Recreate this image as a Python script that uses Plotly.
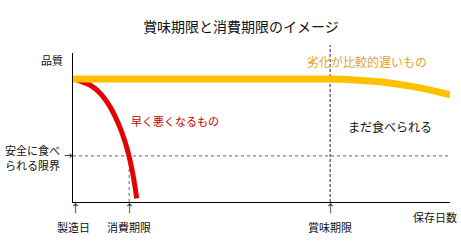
import plotly.graph_objects as go

# ---- data (x: storage days 0-100, y: quality 0-100) ----
slow_x = [0, 20, 40, 60, 68, 74, 81.4, 90.2, 100]
slow_y = [82.6, 82.6, 82.6, 82.6, 82.5, 82.0, 80.7, 77.4, 72.0]
fast_x = [1.1, 2.3, 4.5, 7.2, 9.8, 12.0, 13.8, 14.9, 16.0, 16.9]
fast_y = [81.9, 80.7, 78.5, 73.0, 64.0, 52.8, 40.5, 30.4, 17.0, 2.5]
safe_limit = 31.0
use_by = 14.9
best_before = 68.2
tick_x = [0, use_by, best_before]
tick_labels = ["製造日", "消費期限", "賞味期限"]

FONT = "Noto Sans CJK JP"
W, H = 461, 242
L, R, T, B = 73, 11, 53, 40
X_MAX, Y_MAX = 100, 100

fig = go.Figure()
fig.add_trace(go.Scatter(x=fast_x, y=fast_y, mode="lines",
                         line=dict(color="#E60000", width=5, shape="spline"),
                         hoverinfo="skip", showlegend=False))
fig.add_trace(go.Scatter(x=slow_x, y=slow_y, mode="lines",
                         line=dict(color="#FFC000", width=7, shape="spline"),
                         hoverinfo="skip", showlegend=False))

# dashed guide lines
fig.add_shape(type="line", xref="x", yref="y", x0=0, x1=X_MAX, y0=safe_limit, y1=safe_limit,
              line=dict(color="#808080", width=1.2, dash="3px,3px"), layer="below")
fig.add_shape(type="line", xref="x", yref="y", x0=use_by, x1=use_by, y0=0, y1=safe_limit,
              line=dict(color="#808080", width=1.2, dash="3px,3px"), layer="below")
fig.add_shape(type="line", xref="x", yref="paper", x0=best_before, x1=best_before, y0=0, y1=1.054,
              line=dict(color="#222222", width=1, dash="3px,2px"), layer="below")


def px2p(px):
    return (px - L) / (W - L - R)


def py2p(py):
    return (H - B - py) / (H - T - B)


def ann(text, x, y, size=11, color="#111111", xanchor="center", align="center", family=FONT):
    fig.add_annotation(text=text, x=x, y=y, xref="paper", yref="paper", showarrow=False,
                       font=dict(family=family, size=size, color=color),
                       xanchor=xanchor, yanchor="middle", align=align, borderpad=0)


# tick labels with arrows
for tx, tl in zip(tick_x, tick_labels):
    ax = tx / X_MAX if tx > 0 else px2p(75)
    ann("↑", ax, py2p(208), size=11)
    ann(tl, tx / X_MAX, py2p(227), size=11)

ann("保存日数", px2p(435), py2p(217), size=11)
ann("品質", px2p(52), py2p(60), size=11)
ann("安全に食べ", px2p(4), py2p(150), size=11, xanchor="left")
ann("られる限界", px2p(4), py2p(165), size=11, xanchor="left")
ann("→", px2p(68), py2p(155), size=10, family="DejaVu Sans")
ann("劣化が比較的遅いもの", px2p(367), py2p(61), size=12, color="#E8A030")
ann("早く悪くなるもの", px2p(175), py2p(121), size=11, color="#C00000")
ann("まだ食べられる", px2p(390), py2p(126), size=12, color="#111111")

fig.update_layout(
    width=W, height=H,
    margin=dict(l=L, r=R, t=T, b=B),
    paper_bgcolor="white", plot_bgcolor="white",
    title=dict(text="賞味期限と消費期限のイメージ", x=241 / W, xanchor="center",
               y=1 - 27 / H, yanchor="middle",
               font=dict(family=FONT, size=14, color="#111111")),
    xaxis=dict(range=[0, X_MAX], showgrid=False, zeroline=False, showticklabels=False,
               ticks="", showline=True, linecolor="#000000", linewidth=1, fixedrange=True),
    yaxis=dict(range=[0, Y_MAX], showgrid=False, zeroline=False, showticklabels=False,
               ticks="", showline=True, linecolor="#000000", linewidth=1, fixedrange=True),
    showlegend=False,
)

fig.write_html("out.html", config={"displayModeBar": False})
